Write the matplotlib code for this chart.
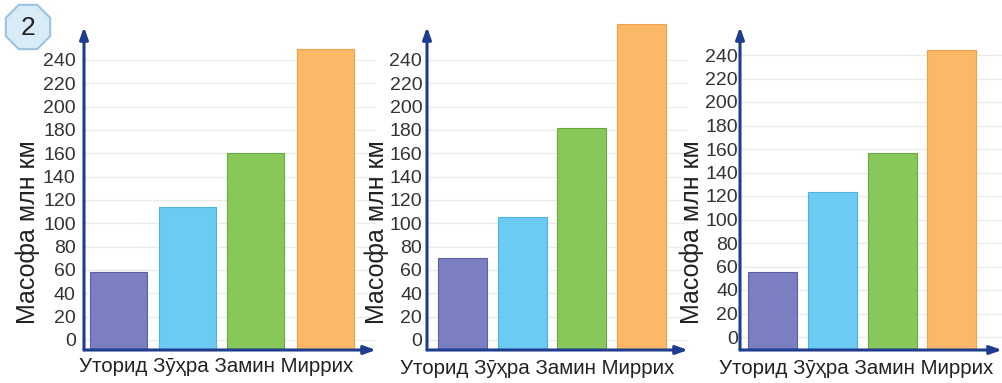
import numpy as np
import matplotlib
matplotlib.use("Agg")
import matplotlib.pyplot as plt
from matplotlib.patches import RegularPolygon

plt.rcParams['font.family'] = ['Liberation Sans', 'DejaVu Sans']

# data (million km)
planets = ["Уторид", "Зӯҳра", "Замин", "Миррих"]
chart1 = [58, 114, 160, 249]
chart2 = [70, 105, 182, 271]
chart3 = [55, 123, 157, 244]
yticks = list(range(0, 241, 20))
ylabel = "Масофа млн км"

colors = ["#7b7ec1", "#6ccbf2", "#88c75a", "#fbb866"]
edges = ["#5d60a6", "#4fb3df", "#6aa943", "#eea24c"]
axis_col = "#1f3d8f"

W, H = 1003, 383
fig = plt.figure(figsize=(W / 100, H / 100), dpi=100)

# layout per chart in pixels: y-axis x, x-axis arrow end, px of value 0, px per unit,
# first bar centre, bar spacing, bar width, tick pad, ylabel x, category text centre
layouts = [
    dict(ax_x=84, x_end=376, y0=340, s=1.1667, c0=118, step=69, bw=57, pad=6,
         lab_x=28, cat_x=216, cat_y=366),
    dict(ax_x=427, x_end=688, y0=340, s=1.1667, c0=462.5, step=59.7, bw=49, pad=3.5,
         lab_x=377, cat_x=537, cat_y=369),
    dict(ax_x=740, x_end=1002, y0=337, s=1.175, c0=772.5, step=59.8, bw=49, pad=1.5,
         lab_x=692, cat_x=856, cat_y=368),
]
axis_y = 350   # x-axis line, px from top
arrow_top = 27  # y-axis arrow tip, px from top
top_px = 8

for vals, L in zip([chart1, chart2, chart3], layouts):
    left = L["ax_x"]
    width = L["x_end"] - L["ax_x"]
    ax = fig.add_axes([left / W, (H - axis_y) / H, width / W, (axis_y - top_px) / H])
    ybot = -(axis_y - L["y0"]) / L["s"]
    ytop = (L["y0"] - top_px) / L["s"]
    ax.set_ylim(ybot, ytop)
    xl = -(L["c0"] - L["ax_x"]) / L["step"]
    xr = (L["x_end"] - L["c0"]) / L["step"]
    ax.set_xlim(xl, xr)

    x = np.arange(len(planets))
    heights = np.array(vals) - ybot
    ax.bar(x, heights, bottom=ybot, width=L["bw"] / L["step"], color=colors,
           edgecolor=edges, linewidth=0.8, zorder=3)

    ax.set_yticks(yticks)
    ax.set_yticklabels([str(t) for t in yticks], fontsize=14, color="#333333")
    ax.set_xticks([])
    ax.tick_params(axis="y", length=0, pad=L["pad"])
    ax.grid(axis="y", color="#ebebeb", linewidth=1, zorder=0)
    for sp in ax.spines.values():
        sp.set_visible(False)

    # category names written as one line under the bars
    fig.text(L["cat_x"] / W, 1 - L["cat_y"] / H, " ".join(planets), fontsize=14.8,
             color="#222222", ha="center", va="center")

    # axes with arrow heads
    ytip = (L["y0"] - arrow_top) / L["s"]
    ax.annotate("", xy=(xl, ytip), xytext=(xl, ybot), xycoords="data",
                arrowprops=dict(arrowstyle="-|>,head_length=0.7,head_width=0.25",
                                color=axis_col, lw=2.2, shrinkA=0, shrinkB=0),
                annotation_clip=False, zorder=5)
    ax.annotate("", xy=(xr, ybot), xytext=(xl, ybot), xycoords="data",
                arrowprops=dict(arrowstyle="-|>,head_length=0.7,head_width=0.25",
                                color=axis_col, lw=2.2, shrinkA=0, shrinkB=0),
                annotation_clip=False, zorder=5)

    fig.text(L["lab_x"] / W, 1 - 232 / H, ylabel, rotation=90, fontsize=18,
             color="#222222", ha="center", va="center")

# task number badge
over = fig.add_axes([0, 0, 1, 1], zorder=10)
over.set_xlim(0, W)
over.set_ylim(H, 0)
over.axis("off")
over.add_patch(RegularPolygon((28, 27), numVertices=8, radius=24, orientation=np.pi / 8,
                              facecolor="#d8ecf8", edgecolor="#9cc3df", linewidth=1.5))
over.text(28, 28, "2", fontsize=19, ha="center", va="center", color="#222222")

fig.savefig("out.png", dpi=100)
